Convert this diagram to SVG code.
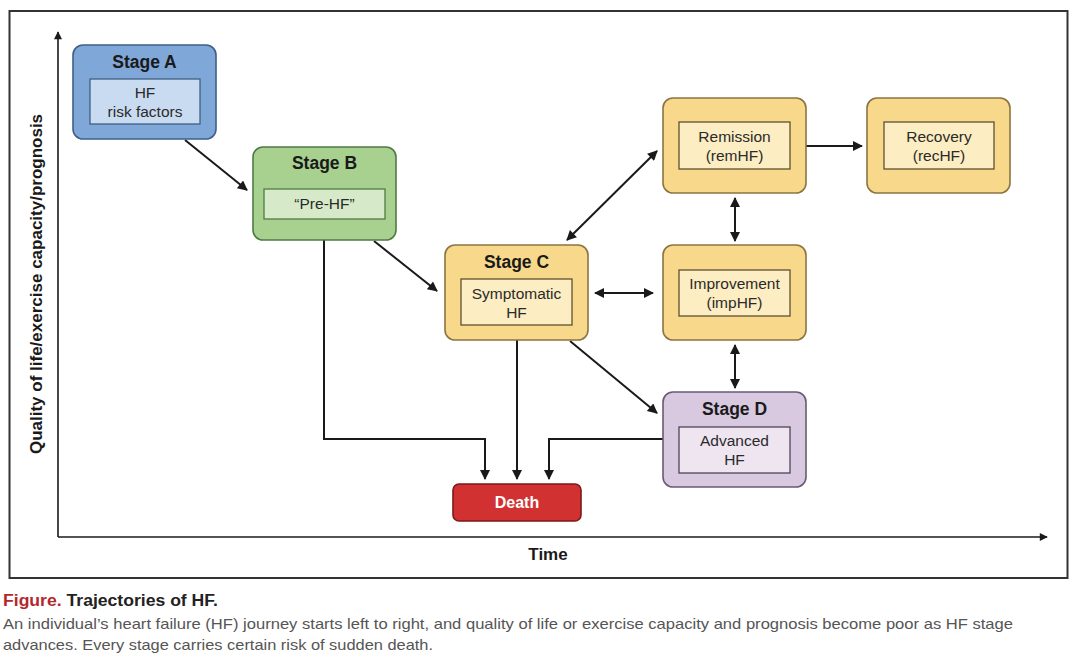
<svg xmlns="http://www.w3.org/2000/svg" width="1080" height="661" viewBox="0 0 1080 661">
<defs>
<marker id="ah" viewBox="0 0 10 10" refX="9" refY="5" markerWidth="6" markerHeight="5" markerUnits="strokeWidth" orient="auto-start-reverse">
<path d="M0,0 L10,5 L0,10 z" fill="#1a1a1a"/>
</marker>
<style>
.box{stroke-width:1.6}
.a{fill:#7fa8d8;stroke:#3f5f86}
.ai{fill:#c8dbf0;stroke:#3f5f86;stroke-width:1.3}
.b{fill:#a8d18f;stroke:#4f7a45}
.bi{fill:#d6eac9;stroke:#4f7a45;stroke-width:1.3}
.c{fill:#f8d98b;stroke:#8c7440}
.ci{fill:#fdedc2;stroke:#5e5030;stroke-width:1.3}
.d{fill:#d8c8e0;stroke:#6a5a72}
.di{fill:#eee5f1;stroke:#4e4456;stroke-width:1.3}
.death{fill:#d13131;stroke:#7a1a1a}
.t{font-family:"Liberation Sans",Arial,sans-serif;font-weight:bold;font-size:17.5px;fill:#1a1a1a;text-anchor:middle}
.s{font-family:"Liberation Sans",Arial,sans-serif;font-size:15.5px;fill:#2a2a2a;text-anchor:middle}
.ln{fill:none;stroke:#1a1a1a;stroke-width:2}
.ax{fill:none;stroke:#1a1a1a;stroke-width:1.6}
.cap{font-family:"Liberation Sans",Arial,sans-serif;font-size:15px;fill:#555}
</style>
</defs>
<rect x="0" y="0" width="1080" height="661" fill="#fff"/>
<rect x="9.5" y="11" width="1058" height="567" fill="#fff" stroke="#333" stroke-width="2"/>

<g id="axes">
<path class="ax" d="M58,537 V32" marker-end="url(#ah)"/>
<path class="ax" d="M58,537 H1047" marker-end="url(#ah)"/>
<text class="t" x="548" y="560" style="font-size:17px">Time</text>
<text class="t" transform="translate(42,284) rotate(-90)" style="font-size:17px">Quality of life/exercise capacity/prognosis</text>
</g>

<g id="connectors">
<path class="ln" d="M185,140 L247,190" marker-end="url(#ah)"/>
<path class="ln" d="M374,241 L437,291" marker-end="url(#ah)"/>
<path class="ln" d="M567,240 L657,151" marker-start="url(#ah)" marker-end="url(#ah)"/>
<path class="ln" d="M806,146 L862,146" marker-end="url(#ah)"/>
<path class="ln" d="M735,198 L735,241" marker-start="url(#ah)" marker-end="url(#ah)"/>
<path class="ln" d="M595,293 L653,293" marker-start="url(#ah)" marker-end="url(#ah)"/>
<path class="ln" d="M735,345 L735,388" marker-start="url(#ah)" marker-end="url(#ah)"/>
<path class="ln" d="M570,341 L657,413" marker-end="url(#ah)"/>
<path class="ln" d="M324,240 V439 H485 V479" marker-end="url(#ah)"/>
<path class="ln" d="M517,340 V479" marker-end="url(#ah)"/>
<path class="ln" d="M663,439 H549 V479" marker-end="url(#ah)"/>
</g>

<g id="stageA">
<rect class="box a" x="73" y="45" width="143" height="94" rx="10"/>
<rect class="ai" x="90" y="79" width="110" height="45"/>
<text class="t" x="144.5" y="68">Stage A</text>
<text class="s" x="145" y="98">HF</text>
<text class="s" x="145" y="117">risk factors</text>
</g>

<g id="stageB">
<rect class="box b" x="253" y="147" width="143" height="93" rx="10"/>
<rect class="bi" x="264" y="189" width="121" height="30"/>
<text class="t" x="324.5" y="169">Stage B</text>
<text class="s" x="324.5" y="209">“Pre-HF”</text>
</g>

<g id="stageC">
<rect class="box c" x="445" y="245" width="143" height="95" rx="10"/>
<rect class="ci" x="461" y="279" width="111" height="46"/>
<text class="t" x="516.5" y="268">Stage C</text>
<text class="s" x="516.5" y="299">Symptomatic</text>
<text class="s" x="516.5" y="318">HF</text>
</g>

<g id="remission">
<rect class="box c" x="663" y="98" width="143" height="95" rx="10"/>
<rect class="ci" x="679" y="122" width="111" height="47"/>
<text class="s" x="734.5" y="142">Remission</text>
<text class="s" x="734.5" y="161">(remHF)</text>
</g>

<g id="recovery">
<rect class="box c" x="867" y="98" width="143" height="95" rx="10"/>
<rect class="ci" x="884" y="122" width="110" height="47"/>
<text class="s" x="939" y="142">Recovery</text>
<text class="s" x="939" y="161">(recHF)</text>
</g>

<g id="improvement">
<rect class="box c" x="663" y="245" width="143" height="95" rx="10"/>
<rect class="ci" x="679" y="270" width="111" height="46"/>
<text class="s" x="734.5" y="289">Improvement</text>
<text class="s" x="734.5" y="308">(impHF)</text>
</g>

<g id="stageD">
<rect class="box d" x="663" y="392" width="143" height="95" rx="10"/>
<rect class="di" x="679" y="427" width="111" height="46"/>
<text class="t" x="734.5" y="415">Stage D</text>
<text class="s" x="734.5" y="446">Advanced</text>
<text class="s" x="734.5" y="465">HF</text>
</g>

<g id="death">
<rect class="box death" x="453" y="484" width="128" height="37" rx="6"/>
<text class="t" x="517" y="508" style="font-size:16px;fill:#fff">Death</text>
</g>

<g id="caption">
<text x="3" y="606" font-family="Liberation Sans, Arial, sans-serif" font-weight="bold" font-size="16" textLength="215" lengthAdjust="spacingAndGlyphs"><tspan fill="#b3282d">Figure.</tspan><tspan fill="#222"> Trajectories of HF.</tspan></text>
<text class="cap" x="3" y="629" textLength="1010" lengthAdjust="spacingAndGlyphs">An individual’s heart failure (HF) journey starts left to right, and quality of life or exercise capacity and prognosis become poor as HF stage</text>
<text class="cap" x="3" y="650" textLength="430" lengthAdjust="spacingAndGlyphs">advances. Every stage carries certain risk of sudden death.</text>
</g>
</svg>
